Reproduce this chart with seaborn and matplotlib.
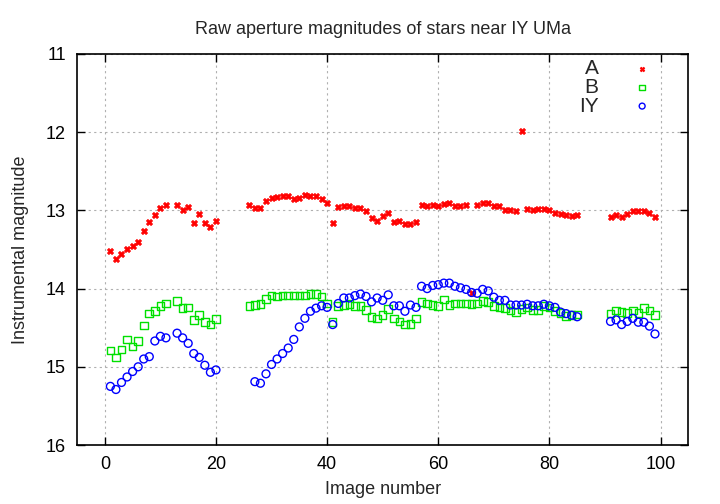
import numpy as np
import pandas as pd
import matplotlib
matplotlib.use('Agg')
import matplotlib.pyplot as plt
import seaborn as sns

# Image numbers (gaps at 12, 21-25, 86-90)
image = list(range(1, 12)) + list(range(13, 21)) + list(range(26, 86)) + list(range(91, 100))

mag_a = [13.52, 13.62, 13.56, 13.50, 13.45, 13.41, 13.26, 13.15, 13.06, 12.97, 12.93,
         12.93, 13.00, 12.96, 13.16, 13.05, 13.16, 13.21, 13.13,
         12.93, 12.97, 12.97, 12.88, 12.84, 12.83, 12.81, 12.82, 12.85, 12.84,
         12.80, 12.82, 12.82, 12.85, 12.91, 13.16, 12.96, 12.94, 12.94, 12.97,
         12.97, 13.01, 13.10, 13.13, 13.07, 13.03, 13.15, 13.14, 13.17, 13.17,
         13.15, 12.93, 12.94, 12.93, 12.94, 12.92, 12.91, 12.94, 12.95, 12.93,
         14.05, 12.93, 12.90, 12.91, 12.95, 12.95, 12.99, 12.99, 13.01, 11.99,
         12.98, 13.00, 12.98, 12.98, 13.00, 13.04, 13.05, 13.06, 13.07, 13.06,
         13.08, 13.06, 13.08, 13.05, 13.01, 13.01, 13.01, 13.04, 13.08]

mag_b = [14.79, 14.88, 14.78, 14.65, 14.74, 14.67, 14.47, 14.32, 14.29, 14.22, 14.19,
         14.16, 14.25, 14.24, 14.40, 14.34, 14.43, 14.46, 14.39,
         14.22, 14.21, 14.20, 14.13, 14.09, 14.10, 14.09, 14.09, 14.09, 14.09,
         14.09, 14.07, 14.07, 14.10, 14.19, 14.43, 14.22, 14.21, 14.20, 14.22,
         14.22, 14.27, 14.36, 14.38, 14.34, 14.26, 14.38, 14.42, 14.46, 14.45,
         14.38, 14.17, 14.19, 14.21, 14.22, 14.14, 14.21, 14.19, 14.19, 14.19,
         14.20, 14.19, 14.16, 14.17, 14.22, 14.24, 14.25, 14.28, 14.30, 14.26,
         14.24, 14.27, 14.27, 14.22, 14.24, 14.29, 14.31, 14.35, 14.34, 14.33,
         14.32, 14.28, 14.30, 14.31, 14.28, 14.31, 14.25, 14.28, 14.34]

mag_iy = [15.25, 15.29, 15.20, 15.13, 15.06, 15.00, 14.90, 14.87, 14.67, 14.61, 14.63,
          14.57, 14.63, 14.70, 14.83, 14.88, 14.98, 15.07, 15.04,
          np.nan, 15.19, 15.21, 15.09, 14.97, 14.90, 14.83, 14.76, 14.65, 14.49,
          14.38, 14.29, 14.25, 14.22, 14.24, 14.46, 14.19, 14.12, 14.12, 14.09,
          14.07, 14.10, 14.17, 14.12, 14.15, 14.08, 14.22, 14.22, 14.29, 14.21,
          14.24, 13.97, 14.00, 13.96, 13.95, 13.93, 13.93, 13.97, 13.99, 14.01,
          14.05, 14.06, 14.01, 14.03, 14.11, 14.15, 14.15, 14.21, 14.21, 14.21,
          14.20, 14.22, 14.22, 14.20, 14.22, 14.24, 14.30, 14.32, 14.34, 14.36,
          14.42, 14.40, 14.46, 14.42, 14.38, 14.43, 14.43, 14.48, 14.58]

df = pd.DataFrame({'image': image, 'A': mag_a, 'B': mag_b, 'IY': mag_iy})

sns.set_style('ticks')
plt.rcParams['font.family'] = ['Liberation Sans', 'DejaVu Sans']

fig, ax = plt.subplots(figsize=(7.2, 5.04), dpi=100)
fig.subplots_adjust(left=0.107, right=0.956, top=0.893, bottom=0.117)

sns.scatterplot(data=df, x='image', y='A', ax=ax, marker='X', s=20,
                color='#ff0000', edgecolor='#ff0000', linewidth=0.5, label='A', zorder=3)
sns.scatterplot(data=df, x='image', y='B', ax=ax, marker='s', s=30,
                facecolors='none', edgecolor='#00e000', linewidth=1.0, label='B', zorder=3)
sns.scatterplot(data=df, x='image', y='IY', ax=ax, marker='o', s=32,
                facecolors='none', edgecolor='#0000ff', linewidth=1.0, label='IY', zorder=3)

ax.set_xlim(-5, 105)
ax.set_ylim(16, 11)
ax.set_xticks([0, 20, 40, 60, 80, 100])
ax.set_yticks([11, 12, 13, 14, 15, 16])
ax.tick_params(direction='in', length=6, width=1, top=True, right=True,
               labelsize=13, pad=8, colors='black')
for s in ax.spines.values():
    s.set_linewidth(1.2)
    s.set_color('black')
ax.grid(True, linestyle=(0, (2, 3)), color='#b0b0b0', linewidth=0.8)
ax.set_axisbelow(True)

ax.set_title('Raw aperture magnitudes of stars near IY UMa', fontsize=13, pad=14)
ax.set_xlabel('Image number', fontsize=13, labelpad=6)
ax.set_ylabel('Instrumental magnitude', fontsize=13, labelpad=12)

ax.legend(loc='upper right', bbox_to_anchor=(0.979, 1.018), frameon=False,
          markerfirst=False, fontsize=15, handletextpad=1.1, labelspacing=-0.02,
          markerscale=0.75, borderaxespad=0.2)

plt.savefig('out.png', dpi=100)
